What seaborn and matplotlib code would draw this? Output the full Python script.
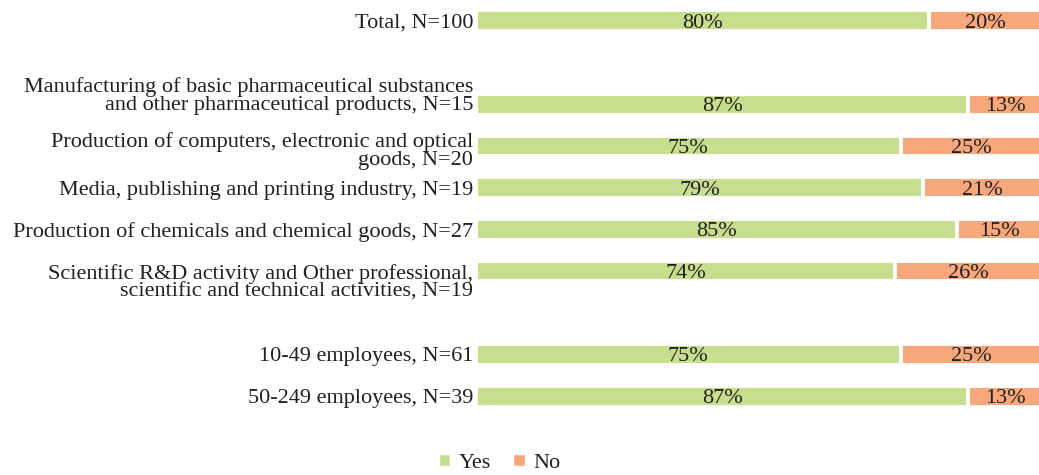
import matplotlib
matplotlib.use("Agg")
import matplotlib.pyplot as plt
import matplotlib.transforms as mtransforms
from matplotlib.patches import Patch
import pandas as pd
import seaborn as sns

# Survey answers per group (share of respondents, %)
groups = [
    "Total, N=100",
    "Manufacturing of basic pharmaceutical substances\nand other pharmaceutical products, N=15",
    "Production of computers, electronic and optical\ngoods, N=20",
    "Media, publishing and printing industry, N=19",
    "Production of chemicals and chemical goods, N=27",
    "Scientific R&D activity and Other professional,\nscientific and technical activities, N=19",
    "10-49 employees, N=61",
    "50-249 employees, N=39",
]
yes = [80, 87, 75, 79, 85, 74, 75, 87]
no = [20, 13, 25, 21, 15, 26, 25, 13]

# Row slots: blank rows separate total, industries and company sizes
rows = [0, 2, 3, 4, 5, 6, 8, 9]

GREEN = "#C6DE8D"
ORANGE = "#F6A87C"
TEXT = "#231F20"
FS = 16

sns.set_theme(style="white")
plt.rcParams["font.family"] = ["Liberation Serif", "DejaVu Serif"]

df = pd.DataFrame({"group": groups, "row": rows, "yes": yes, "no": no})

fig = plt.figure(figsize=(10.39, 4.75), dpi=100)
ax = fig.add_axes([476 / 1039, 1 - 417 / 475, 566 / 1039, 417 / 475])

bar_kw = dict(orient="y", native_scale=True, width=0.5, edgecolor="white",
              linewidth=2.8, errorbar=None, saturation=1, ax=ax)

# "Yes" segments start at zero
sns.barplot(data=df, x="yes", y="row", color=GREEN, **bar_kw)
n_yes = len(ax.patches)

# "No" segments, then stacked to the right of the "Yes" segments
sns.barplot(data=df, x="no", y="row", color=ORANGE, **bar_kw)
for patch, left in zip(ax.patches[n_yes:], df["yes"]):
    patch.set_x(left)

ax.set_xlim(0, 100)
ax.set_ylim(9.5, -0.5)
ax.set_xlabel("")
ax.set_ylabel("")
ax.set_xticks([])
ax.set_yticks(rows)
ax.set_yticklabels(groups, fontsize=FS, color=TEXT, linespacing=0.88)
ax.tick_params(axis="y", length=0, pad=2)
for s in ax.spines.values():
    s.set_visible(False)

# Two-line labels are anchored the way the wrapped category text falls
shifts = {1: 7.0, 2: -2.5, 5: -7.5}
for i, lab in enumerate(ax.get_yticklabels()):
    if i in shifts:
        off = mtransforms.ScaledTranslation(0, shifts[i] / 72, fig.dpi_scale_trans)
        lab.set_transform(lab.get_transform() + off)

# Segment value labels
for r, y_, n_ in zip(rows, yes, no):
    ax.text(y_ / 2, r + 0.06, f"{y_}%", ha="center", va="center",
            fontsize=FS, color=TEXT)
    ax.text(y_ + n_ / 2, r + 0.06, f"{n_}%", ha="center", va="center",
            fontsize=FS, color=TEXT)

handles = [Patch(facecolor=GREEN, label="Yes"), Patch(facecolor=ORANGE, label="No")]
fig.legend(handles=handles, loc="lower center", bbox_to_anchor=(0.481, -0.038),
           ncol=2, frameon=False, fontsize=FS, handlelength=0.5,
           handleheight=0.5, handletextpad=0.4, columnspacing=1.0,
           labelcolor=TEXT)

fig.savefig("out.png", dpi=100, facecolor="white")
